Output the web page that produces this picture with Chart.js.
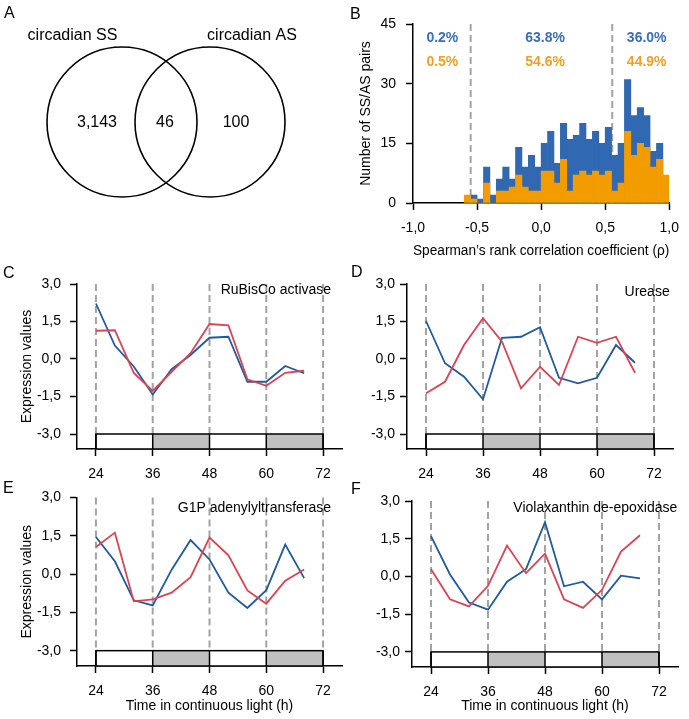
<!DOCTYPE html>
<html>
<head>
<meta charset="utf-8">
<script src="https://cdn.jsdelivr.net/npm/chart.js@4.4.1/dist/chart.umd.min.js"></script>
<style>
body { margin:0; background:#fff; width:689px; height:719px; position:relative; overflow:hidden; font-family:'Liberation Sans', Arial, sans-serif; }
canvas { position:absolute; }
.lab { position:absolute; font-size:16px; line-height:16px; color:#000; }
</style>
</head>
<body>
<canvas id="venn" width="345" height="230" style="left:0;top:0"></canvas>
<canvas id="hist" width="344" height="264" style="left:345px;top:0"></canvas>
<canvas id="chC" width="345" height="218" style="left:0;top:262px"></canvas>
<canvas id="chD" width="344" height="216" style="left:345px;top:264px"></canvas>
<canvas id="chE" width="345" height="239" style="left:0;top:480px"></canvas>
<canvas id="chF" width="344" height="239" style="left:345px;top:480px"></canvas>
<div class="lab" style="left:4px;top:5px">A</div>
<div class="lab" style="left:350px;top:6px">B</div>
<div class="lab" style="left:3px;top:265px">C</div>
<div class="lab" style="left:351px;top:264px">D</div>
<div class="lab" style="left:3px;top:480px">E</div>
<div class="lab" style="left:351px;top:481px">F</div>
<script>
// ---- A: venn
const vennSets = ['circadian SS', 'circadian AS'];
const vennCounts = ['3,143', '46', '100'];

// ---- B: histogram of rho (bin centres, 0.05 wide)
const rhoBins = [-0.575, -0.525, -0.475, -0.425, -0.375, -0.325, -0.275, -0.225,
                 -0.175, -0.125, -0.075, -0.025, 0.025, 0.075, 0.125, 0.175,
                 0.225, 0.275, 0.325, 0.375, 0.425, 0.475, 0.525, 0.575,
                 0.625, 0.675, 0.725, 0.775, 0.825, 0.875, 0.925, 0.975];
const pairsBlue   = [0, 2, 1, 9, 2, 6, 9, 6, 14, 9, 12, 9, 15, 18, 10, 20,
                     16, 17, 20, 16, 18, 15, 19, 12, 15, 31, 22, 24, 22, 13, 15, 0];
const pairsOrange = [2, 1, 0, 5, 0, 3, 3, 4, 7, 4, 3, 3, 8, 8, 5, 11,
                     3, 7, 8, 7, 8, 7, 8, 3, 5, 18, 12, 15, 14, 9, 11, 7];
const rhoCutoffs = [-0.55, 0.555];
const pctBlue   = ['0.2%', '63.8%', '36.0%'];
const pctOrange = ['0.5%', '54.6%', '44.9%'];
const rhoTicks = [-1, -0.5, 0, 0.5, 1];
const pairTicks = [0, 15, 30, 45];

// ---- C-F: time courses
const hours = [24, 28, 32, 36, 40, 44, 48, 52, 56, 60, 64, 68];
const hourTicks = [24, 36, 48, 60, 72];
const exprTicks = [-3, -1.5, 0, 1.5, 3];

const rubiscoBlue = [2.22, 0.54, -0.3, -1.42, -0.41, 0.16, 0.85, 0.89, -0.91, -0.91, -0.28, -0.57];
const rubiscoRed  = [1.13, 1.15, -0.56, -1.28, -0.51, 0.23, 1.4, 1.35, -0.81, -1.07, -0.55, -0.47];
const ureaseBlue  = [1.52, -0.17, -0.71, -1.61, 0.85, 0.89, 1.27, -0.75, -0.97, -0.75, 0.56, -0.15];
const ureaseRed   = [-1.37, -0.91, 0.56, 1.63, 0.69, -1.17, -0.31, -1.04, 0.89, 0.65, 0.89, -0.55];
const g1pBlue     = [1.45, 0.5, -1.03, -1.23, 0.17, 1.33, 0.57, -0.73, -1.33, -0.63, 1.15, -0.16];
const g1pRed      = [1.06, 1.62, -1.07, -0.99, -0.73, -0.12, 1.43, 0.73, -0.64, -1.16, -0.26, 0.18];
const violaBlue   = [1.6, 0.08, -1.04, -1.32, -0.21, 0.29, 2.16, -0.39, -0.21, -0.91, 0.03, -0.08];
const violaRed    = [0.29, -0.91, -1.19, -0.37, 1.23, 0.13, 0.91, -0.91, -1.25, -0.53, 0.99, 1.64];

Chart.defaults.font.family = "'Liberation Sans', Arial, sans-serif";
Chart.defaults.font.size = 14;
Chart.defaults.color = '#000';

const comma = v => Number(v).toFixed(1).replace('.', ',');

// Venn text
const vennText = {
    id: 'vennText',
    afterDatasetsDraw(chart) {
        const {ctx, scales: {x, y}} = chart;
        ctx.save();
        ctx.fillStyle = '#000';
        ctx.font = "16px 'Liberation Sans', Arial, sans-serif";
        ctx.textAlign = 'center';
        ctx.textBaseline = 'middle';
        ctx.fillText(vennSets[0], x.getPixelForValue(72.5), y.getPixelForValue(36));
        ctx.fillText(vennSets[1], x.getPixelForValue(252), y.getPixelForValue(36));
        ctx.fillText(vennCounts[0], x.getPixelForValue(97), y.getPixelForValue(123));
        ctx.fillText(vennCounts[1], x.getPixelForValue(165), y.getPixelForValue(123));
        ctx.fillText(vennCounts[2], x.getPixelForValue(236), y.getPixelForValue(123));
        ctx.restore();
    }
};

new Chart(document.getElementById('venn'), {
    type: 'bubble',
    data: {
        datasets: [{
            data: [{x: 122, y: 122, r: 75}, {x: 210, y: 122, r: 75}],
            backgroundColor: 'rgba(0,0,0,0)',
            borderColor: '#000',
            borderWidth: 1.6,
            clip: false
        }]
    },
    options: {
        responsive: false,
        animation: false,
        events: [],
        layout: { padding: 0, autoPadding: false },
        plugins: { legend: { display: false }, tooltip: { enabled: false } },
        scales: {
            x: { type: 'linear', min: 0, max: 345, display: false },
            y: { type: 'linear', min: 0, max: 230, reverse: true, display: false }
        }
    },
    plugins: [vennText]
});

// histogram extras: cutoff lines + percentages
const histDecor = {
    id: 'histDecor',
    beforeDatasetsDraw(chart) {
        const {ctx, chartArea, scales: {x}} = chart;
        ctx.save();
        ctx.strokeStyle = '#a3a3a3';
        ctx.lineWidth = 2;
        ctx.setLineDash([7, 4]);
        rhoCutoffs.forEach(r => {
            const px = x.getPixelForValue(r);
            ctx.beginPath();
            ctx.moveTo(px, chartArea.top);
            ctx.lineTo(px, chartArea.bottom);
            ctx.stroke();
        });
        ctx.restore();
    },
    afterDatasetsDraw(chart) {
        const {ctx, scales: {x, y}} = chart;
        const spots = [-0.771, 0.031, 0.824];
        ctx.save();
        ctx.font = "bold 14px 'Liberation Sans', Arial, sans-serif";
        ctx.textAlign = 'center';
        ctx.textBaseline = 'middle';
        spots.forEach((r, i) => {
            ctx.fillStyle = '#3a6fb5';
            ctx.fillText(pctBlue[i], x.getPixelForValue(r), y.getPixelForValue(41.5));
            ctx.fillStyle = '#f0a024';
            ctx.fillText(pctOrange[i], x.getPixelForValue(r), y.getPixelForValue(35.3));
        });
        ctx.restore();
    }
};

const axisGrid = { display: true, drawOnChartArea: false, drawTicks: true, tickLength: 7, tickColor: '#000', tickWidth: 1.5 };
const axisBorder = { display: true, color: '#000', width: 1.5 };

new Chart(document.getElementById('hist'), {
    type: 'bar',
    data: {
        datasets: [
            {
                data: rhoBins.map((r, i) => ({x: r, y: pairsOrange[i]})),
                backgroundColor: '#f39c00',
                grouped: false,
                order: 0
            },
            {
                data: rhoBins.map((r, i) => ({x: r, y: pairsBlue[i]})),
                backgroundColor: '#3068b2',
                grouped: false,
                order: 1
            }
        ]
    },
    options: {
        responsive: false,
        animation: false,
        events: [],
        barPercentage: 1,
        categoryPercentage: 1,
        layout: { padding: { left: 9, top: 24, right: 14, bottom: 0 } },
        plugins: { legend: { display: false }, tooltip: { enabled: false } },
        scales: {
            x: {
                type: 'linear', min: -1, max: 1, offset: false,
                grid: Object.assign({}, axisGrid, { offset: false }),
                border: axisBorder,
                afterBuildTicks: s => { s.ticks = rhoTicks.map(v => ({value: v})); },
                afterFit: s => { s.height = 61; },
                ticks: { padding: 10, autoSkip: false, maxRotation: 0, callback: v => comma(v) },
                title: { display: true, text: 'Spearman\u2019s rank correlation coefficient (\u03c1)', padding: { top: 0, bottom: 4 } }
            },
            y: {
                min: 0, max: 45,
                grid: axisGrid,
                border: axisBorder,
                afterBuildTicks: s => { s.ticks = pairTicks.map(v => ({value: v})); },
                afterFit: s => { s.width = 59; },
                ticks: { padding: 10 },
                title: { display: true, text: 'Number of SS/AS pairs', padding: { top: 4, bottom: 0 } }
            }
        }
    },
    plugins: [histDecor]
});

// time course extras: dashed guides, light/dark bar, gene name
const courseDecor = {
    id: 'courseDecor',
    beforeDatasetsDraw(chart, args, opts) {
        const {ctx, chartArea, scales: {x, y}} = chart;
        const top = y.getPixelForValue(3), boxTop = y.getPixelForValue(-3), boxBot = chartArea.bottom;
        ctx.save();
        ctx.strokeStyle = '#a3a3a3';
        ctx.lineWidth = 2;
        ctx.setLineDash([7, 4]);
        hourTicks.forEach(h => {
            const px = x.getPixelForValue(h);
            ctx.beginPath();
            ctx.moveTo(px, top);
            ctx.lineTo(px, boxTop);
            ctx.stroke();
        });
        ctx.setLineDash([]);
        for (let i = 0; i < hourTicks.length - 1; i++) {
            const x0 = x.getPixelForValue(hourTicks[i]);
            const x1 = x.getPixelForValue(hourTicks[i + 1]);
            ctx.fillStyle = i % 2 ? '#c0c0c0' : '#ffffff';
            ctx.fillRect(x0, boxTop, x1 - x0, boxBot - boxTop);
        }
        ctx.strokeStyle = '#000';
        ctx.lineWidth = 1.5;
        const xs = x.getPixelForValue(hourTicks[0]);
        const xe = x.getPixelForValue(hourTicks[hourTicks.length - 1]);
        ctx.strokeRect(xs, boxTop, xe - xs, boxBot - boxTop);
        hourTicks.forEach(h => {
            const px = x.getPixelForValue(h);
            ctx.beginPath();
            ctx.moveTo(px, boxTop);
            ctx.lineTo(px, boxBot);
            ctx.stroke();
        });
        ctx.fillStyle = '#000';
        ctx.font = "14px 'Liberation Sans', Arial, sans-serif";
        ctx.textAlign = 'right';
        ctx.textBaseline = 'middle';
        ctx.fillText(opts.gene, x.getPixelForValue(opts.at[0]), y.getPixelForValue(opts.at[1]));
        ctx.restore();
    }
};

function timeCourse(id, blue, red, o) {
    return new Chart(document.getElementById(id), {
        type: 'line',
        data: {
            datasets: [
                { data: hours.map((h, i) => ({x: h, y: red[i]})), borderColor: '#de4250' },
                { data: hours.map((h, i) => ({x: h, y: blue[i]})), borderColor: '#1f5aa0' }
            ]
        },
        options: {
            responsive: false,
            animation: false,
            events: [],
            layout: { padding: { left: o.padL, top: o.padT, right: o.padR, bottom: 0 } },
            elements: { point: { radius: 0 }, line: { tension: 0, borderWidth: 1.8 } },
            plugins: {
                legend: { display: false },
                tooltip: { enabled: false },
                courseDecor: { gene: o.gene, at: o.at }
            },
            scales: {
                x: {
                    type: 'linear', min: 20, max: 76,
                    grid: axisGrid,
                    border: axisBorder,
                    afterBuildTicks: s => { s.ticks = hourTicks.map(v => ({value: v})); },
                    afterFit: s => { s.height = o.xH; },
                    ticks: { padding: 10, autoSkip: false, maxRotation: 0 },
                    title: { display: o.xTitle, text: 'Time in continuous light (h)', padding: { top: 0, bottom: 4 } }
                },
                y: {
                    min: -3.6, max: 3,
                    grid: axisGrid,
                    border: axisBorder,
                    afterBuildTicks: s => { s.ticks = exprTicks.map(v => ({value: v})); },
                    afterFit: s => { s.width = o.yW; },
                    ticks: { padding: o.yPad, callback: v => comma(v) },
                    title: { display: o.yTitle, text: 'Expression values', padding: { top: 4, bottom: 0 } }
                }
            }
        },
        plugins: [courseDecor]
    });
}

timeCourse('chC', rubiscoBlue, rubiscoRed,
    { gene: 'RuBisCo activase', at: [73.7, 2.76], padL: 15, padT: 22, padR: 3, yW: 62, xH: 31, yPad: 9, yTitle: true, xTitle: false });
timeCourse('chD', ureaseBlue, ureaseRed,
    { gene: 'Urease', at: [75.3, 2.68], padL: 0, padT: 20, padR: 16, yW: 62, xH: 31, yPad: 5, yTitle: false, xTitle: false });
timeCourse('chE', g1pBlue, g1pRed,
    { gene: 'G1P adenylyltransferase', at: [73.7, 2.57], padL: 15, padT: 17, padR: 3, yW: 62, xH: 53, yPad: 9, yTitle: true, xTitle: true });
timeCourse('chF', violaBlue, violaRed,
    { gene: 'Violaxanthin de-epoxidase', at: [75.85, 2.72], padL: 0, padT: 21, padR: 11, yW: 67, xH: 52, yPad: 5, yTitle: false, xTitle: true });
</script>
</body>
</html>
